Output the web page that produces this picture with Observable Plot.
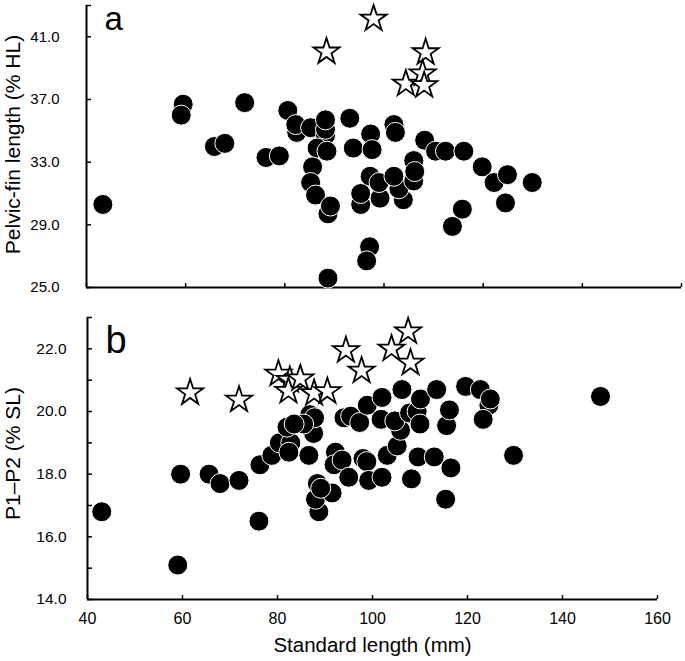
<!DOCTYPE html>
<html>
<head>
<meta charset="utf-8">
<script src="https://cdn.jsdelivr.net/npm/d3@7"></script>
<script src="https://cdn.jsdelivr.net/npm/@observablehq/plot@0.6"></script>
<style>
  html, body { margin: 0; padding: 0; background: #fff; }
  #chart svg { display: block; }
</style>
</head>
<body>
<div id="chart"></div>
<script>
// ---- Panel a: pelvic-fin length (% HL) ----
const aFilledSL = [43.3, 59.5, 59.1, 65.8, 67.9, 71.9, 76.2, 78.9, 80.6, 82.4, 82.2, 85.2, 88.2, 88.2, 88.2,
  86.5, 88.5, 85.6, 85.2, 86.2, 88.7, 89.2, 93.1, 93.8, 97.3, 97.6, 97.2, 95.3, 95.3, 99.2, 99.0,
  102.0, 102.3, 103.9, 103.0, 102.0, 106.0, 106.0, 106.2, 108.2, 110.4, 112.4, 116.1, 119.8, 122.2,
  124.9, 124.5, 115.8, 113.8, 129.9, 97.1, 96.5, 88.7];
const aFilledPelvic = [30.3, 36.7, 36.0, 34.0, 34.2, 36.8, 33.3, 33.4, 36.3, 34.9, 35.4, 35.2, 34.7, 35.1, 35.7,
  33.9, 33.7, 32.7, 31.7, 30.9, 29.7, 30.2, 35.8, 33.9, 34.8, 33.8, 32.1, 30.3, 31.0, 30.7, 31.7,
  35.4, 34.9, 30.6, 31.3, 32.1, 31.8, 33.1, 32.4, 34.4, 33.7, 33.7, 33.7, 32.7, 31.7,
  32.2, 30.4, 30.0, 28.9, 31.7, 27.6, 26.7, 25.6];
const aStarSL = [97.9, 88.4, 108.4, 104.4, 107.8, 108.1];
const aStarPelvic = [42.15, 40.05, 40.0, 38.0, 38.65, 37.9];

// ---- Panel b: P1–P2 distance (% SL) ----
const bFilledSL = [43.0, 59.0, 59.6, 65.6, 67.9, 71.9, 76.1, 76.3, 78.8, 80.4, 82.8, 82.4, 86.6, 87.6, 86.8,
  87.8, 82.0, 85.5, 83.5, 88.7, 88.0, 88.4, 91.5, 89.1, 92.2, 91.9, 93.6, 95.0, 94.0, 95.4, 97.3,
  98.9, 98.0, 98.8, 99.2, 102.0, 102.0, 101.8, 103.1, 105.2, 105.9, 104.7, 106.2, 107.8, 109.4,
  110.1, 110.0, 109.6, 108.2, 113.0, 113.5, 115.6, 116.2, 116.5, 115.4, 119.6, 122.7, 124.5, 124.8,
  123.3, 129.7, 148.0];
const bFilledP1P2 = [16.8, 15.1, 18.0, 18.0, 17.7, 17.8, 16.5, 18.3, 18.6, 19.0, 19.0, 18.7, 18.6, 19.3, 19.9,
  19.8, 19.5, 19.6, 19.6, 16.8, 17.2, 17.7, 17.4, 17.55, 18.7, 18.3, 18.45, 17.9, 19.8, 19.85, 19.65,
  20.2, 18.5, 18.4, 17.8, 17.9, 20.45, 19.75, 18.6, 18.9, 19.4, 19.7, 20.7, 19.95, 20.0,
  20.4, 19.6, 18.55, 17.85, 18.55, 20.7, 19.55, 20.05, 18.2, 17.2, 20.8, 20.7, 20.2, 20.4,
  19.75, 18.6, 20.48];
const bStarSL = [61.6, 71.9, 80.2, 82.6, 82.3, 84.8, 87.7, 90.5, 94.4, 97.7, 104.0, 107.5, 108.0];
const bStarP1P2 = [20.6, 20.37, 21.2, 21.0, 20.65, 21.05, 20.58, 20.64, 21.95, 21.3, 22.0, 22.55, 21.55];

// ---- Axes ----
const slTicks = [40, 60, 80, 100, 120, 140, 160];
const aTickMarks = [25, 29, 33, 37, 41, 43];
const aTickLabels = [25, 29, 33, 37, 41];
const bTickMarks = [14, 15, 16, 17, 18, 19, 20, 21, 22, 23];
const bTickLabels = [14, 16, 18, 20, 22];
const panelA = ["a"];
const panelB = ["b"];
const yTitleA = ["Pelvic-fin length (% HL)"];
const yTitleB = ["P1\u2013P2 (% SL)"];
const xTitle = ["Standard length (mm)"];

const pts = (xs, ys) => xs.map((x, i) => ({x, y: ys[i]}));
const fmt = d3.format(".1f");
const font = "'Liberation Sans', Arial, Helvetica, sans-serif";

function circles(data) {
  return Plot.dot(data, {x: "x", y: "y", r: 10, fill: "black", stroke: "white", strokeWidth: 1});
}
function stars(data) {
  return Plot.dot(data, {x: "x", y: "y", r: 8.2, symbol: "star", fill: "white", stroke: "black", strokeWidth: 1.8});
}

const plotA = Plot.plot({
  width: 685, height: 300,
  marginLeft: 86, marginRight: 4, marginTop: 5, marginBottom: 13,
  style: {fontFamily: font, background: "white", overflow: "visible"},
  x: {domain: [40, 160]},
  y: {domain: [25, 43]},
  marks: [
    Plot.ruleX([40], {strokeWidth: 2}),
    Plot.ruleY([25], {strokeWidth: 2}),
    Plot.axisX({ticks: slTicks, tickSize: -4, strokeWidth: 1.5, tickFormat: () => "", label: null}),
    Plot.axisY({ticks: aTickMarks, tickSize: -5, strokeWidth: 1.5, tickFormat: () => "", label: null}),
    Plot.axisY({ticks: aTickLabels, tickSize: 0, tickPadding: 27, tickFormat: fmt, fontSize: 15, fill: "black", label: null}),
    circles(pts(aFilledSL, aFilledPelvic)),
    stars(pts(aStarSL, aStarPelvic)),
    Plot.text(panelA, {frameAnchor: "top-left", dx: 18, dy: 24, text: d => d, fontSize: 33, textAnchor: "start", lineAnchor: "bottom", fill: "black"}),
    Plot.text(yTitleA, {frameAnchor: "left", dx: -73, dy: -2, text: d => d, rotate: -90, fontSize: 21, textAnchor: "middle", lineAnchor: "middle", fill: "black"})
  ]
});

const plotB = Plot.plot({
  width: 685, height: 361,
  marginLeft: 87, marginRight: 28, marginTop: 17, marginBottom: 62,
  style: {fontFamily: font, background: "white", overflow: "visible"},
  x: {domain: [40, 160]},
  y: {domain: [14, 23]},
  marks: [
    Plot.ruleX([40], {strokeWidth: 2}),
    Plot.ruleY([14], {strokeWidth: 2}),
    Plot.axisX({ticks: slTicks, tickSize: -4, strokeWidth: 1.5, tickFormat: () => "", label: null}),
    Plot.axisX({ticks: slTicks, tickSize: 0, tickPadding: 13, fontSize: 16, fill: "black", label: null}),
    Plot.axisY({ticks: bTickMarks, tickSize: -5, strokeWidth: 1.5, tickFormat: () => "", label: null}),
    Plot.axisY({ticks: bTickLabels, tickSize: 0, tickPadding: 21, tickFormat: fmt, fontSize: 15.5, fill: "black", label: null}),
    circles(pts(bFilledSL, bFilledP1P2)),
    stars(pts(bStarSL, bStarP1P2)),
    Plot.text(panelB, {frameAnchor: "top-left", dx: 18, dy: 35, text: d => d, fontSize: 38, textAnchor: "start", lineAnchor: "bottom", fill: "black"}),
    Plot.text(yTitleB, {frameAnchor: "left", dx: -74, dy: -5, text: d => d, rotate: -90, fontSize: 21, textAnchor: "middle", lineAnchor: "middle", fill: "black"}),
    Plot.text(xTitle, {frameAnchor: "bottom", dy: 46, text: d => d, fontSize: 20.5, textAnchor: "middle", lineAnchor: "middle", fill: "black"})
  ]
});

document.getElementById("chart").append(plotA, plotB);
</script>
</body>
</html>
